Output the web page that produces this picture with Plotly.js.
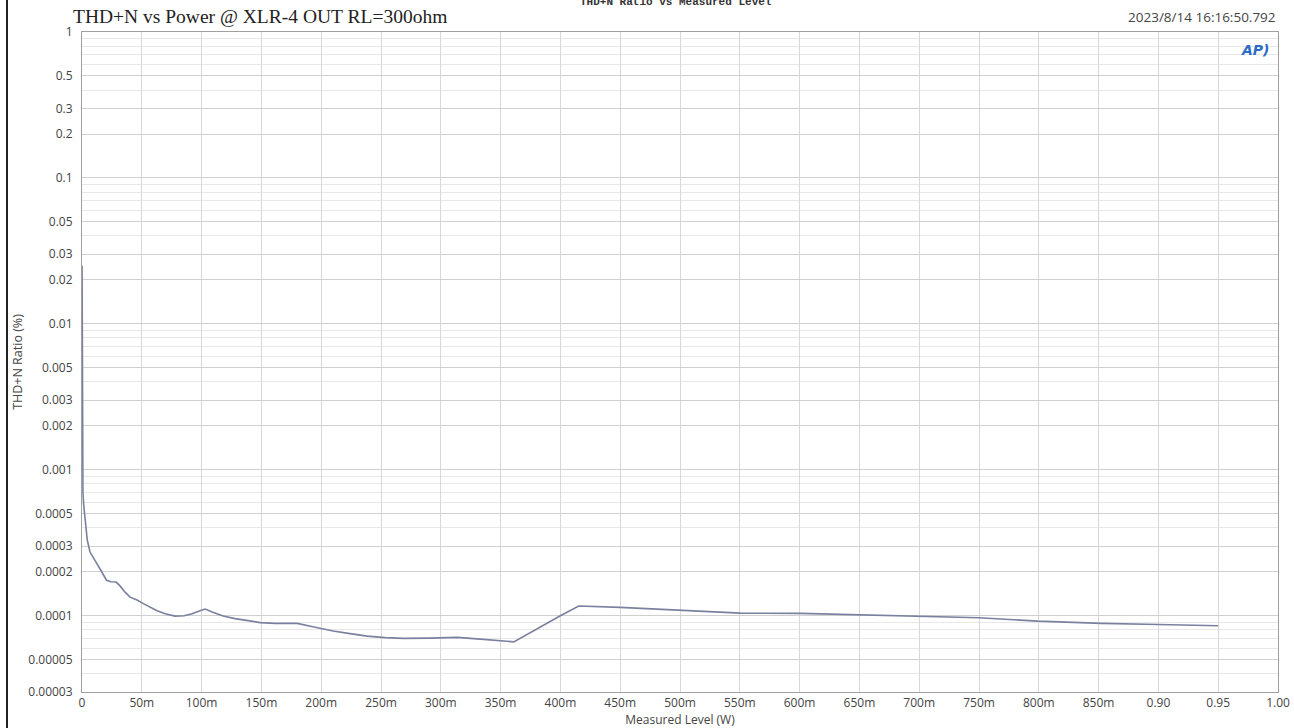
<!DOCTYPE html>
<html>
<head>
<meta charset="utf-8">
<script src="https://cdn.plot.ly/plotly-3.0.1.min.js"></script>
<style>
  html, body { margin: 0; padding: 0; background: #fff; }
  #chart { width: 1294px; height: 728px; position: relative; }
  #edge { position: absolute; left: 6px; top: 0; width: 2px; height: 728px; background: #222; z-index: 10; }
</style>
</head>
<body>
<div id="chart"></div>
<div id="edge"></div>
<script>
// Measured level (W)
const levelW = [0.00005, 0.0004, 0.0006, 0.0008, 0.0015, 0.0025, 0.0044, 0.0067, 0.0095, 0.0121,
  0.0151, 0.0176, 0.0205, 0.0243, 0.0285, 0.0318, 0.036, 0.0402, 0.046, 0.0513,
  0.0569, 0.0628, 0.0695, 0.0778, 0.0854, 0.092, 0.0987, 0.1029, 0.1088, 0.118,
  0.128, 0.138, 0.149, 0.1615, 0.18, 0.193, 0.21, 0.224, 0.2385, 0.2536,
  0.2686, 0.2912, 0.3138, 0.333, 0.35, 0.361, 0.40, 0.4153, 0.45, 0.5004,
  0.5506, 0.6008, 0.651, 0.7013, 0.75, 0.799, 0.824, 0.8527, 0.9, 0.95];
// THD+N ratio (%)
const thdnPct = [0.025, 0.00124, 0.00092, 0.00069, 0.000564, 0.000452, 0.00033, 0.000273, 0.000252, 0.00023,
  0.000209, 0.000193, 0.000175, 0.000171, 0.00017, 0.00016, 0.000145, 0.000134, 0.000128, 0.000121,
  0.000114, 0.000108, 0.000103, 0.0000994, 0.0001, 0.000103, 0.000108, 0.000111, 0.000106, 0.0000994,
  0.0000955, 0.0000923, 0.0000897, 0.0000886, 0.0000886, 0.0000839, 0.0000785, 0.0000754, 0.0000725, 0.0000708,
  0.0000699, 0.0000702, 0.000071, 0.0000691, 0.0000675, 0.0000662, 0.0001, 0.0001164, 0.000114, 0.000109,
  0.0001042, 0.0001037, 0.0001015, 0.0000994, 0.0000968, 0.0000918, 0.00009, 0.0000886, 0.0000871, 0.0000853];

const xTickVals = [0, 0.05, 0.1, 0.15, 0.2, 0.25, 0.3, 0.35, 0.4, 0.45, 0.5, 0.55, 0.6, 0.65, 0.7, 0.75, 0.8, 0.85, 0.9, 0.95, 1.0];
const xTickText = ["0", "50m", "100m", "150m", "200m", "250m", "300m", "350m", "400m", "450m", "500m", "550m", "600m", "650m", "700m", "750m", "800m", "850m", "0.90", "0.95", "1.00"];
const yTickVals = [1, 0.5, 0.3, 0.2, 0.1, 0.05, 0.03, 0.02, 0.01, 0.005, 0.003, 0.002, 0.001, 0.0005, 0.0003, 0.0002, 0.0001, 0.00005, 0.00003];
const yTickText = ["1", "0.5", "0.3", "0.2", "0.1", "0.05", "0.03", "0.02", "0.01", "0.005", "0.003", "0.002", "0.001", "0.0005", "0.0003", "0.0002", "0.0001", "0.00005", "0.00003"];
const yMinorMant = [1, 2, 3, 4, 5, 6, 7, 8, 9];
const yDecades = [-5, -4, -3, -2, -1];

const yMinorVals = [];
yDecades.forEach(d => yMinorMant.forEach(m => {
  const v = m * Math.pow(10, d);
  if (v >= 0.00003 && v <= 1) yMinorVals.push(v);
}));

const sans = "Open Sans, Noto Sans, sans-serif";
const tickFont = { family: sans, size: 12, color: "#444" };

const trace = {
  x: levelW, y: thdnPct, type: "scatter", mode: "lines",
  line: { color: "#7a819e", width: 1.6 },
  hoverinfo: "skip"
};

const layout = {
  width: 1294, height: 728,
  margin: { l: 82, r: 16, t: 32, b: 36 },
  paper_bgcolor: "#fff", plot_bgcolor: "#fff",
  showlegend: false,
  xaxis: {
    range: [0, 1.0], tickmode: "array", tickvals: xTickVals, ticktext: xTickText,
    showgrid: true, gridcolor: "#d8d8d8", gridwidth: 1,
    showline: true, linecolor: "#a0a0a0", linewidth: 1, mirror: true,
    zeroline: false, ticks: "", tickfont: tickFont, ticklabelstandoff: 0,
    title: { text: "Measured Level (W)", font: { family: sans, size: 12, color: "#444" }, standoff: 0 }
  },
  yaxis: {
    type: "log", range: [Math.log10(0.00003), 0],
    tickmode: "array", tickvals: yTickVals, ticktext: yTickText,
    showgrid: true, gridcolor: "#d0d0d0", gridwidth: 1,
    minor: { tickmode: "array", tickvals: yMinorVals, showgrid: true, gridcolor: "#e8e8e8", gridwidth: 1, ticks: "" },
    showline: true, linecolor: "#a0a0a0", linewidth: 1, mirror: true,
    zeroline: false, ticks: "", tickfont: tickFont, ticklabelstandoff: 6,
    title: { text: "THD+N Ratio (%)", font: { family: sans, size: 12.5, color: "#444" }, standoff: 2 }
  },
  annotations: [
    { xref: "paper", yref: "paper", x: -0.009, y: 1.004, xanchor: "left", yanchor: "bottom",
      text: "THD+N vs Power @ XLR-4 OUT RL=300ohm", showarrow: false,
      font: { family: "Liberation Serif, Times New Roman, serif", size: 19.5, color: "#222" } },
    { xref: "paper", yref: "paper", x: 0.497, y: 1.046, xanchor: "center", yanchor: "middle",
      text: "<b>THD+N Ratio vs Measured Level</b>", showarrow: false,
      font: { family: "Liberation Mono, Courier New, monospace", size: 11, color: "#333" } },
    { xref: "paper", yref: "paper", x: 1.0, y: 1.006, xanchor: "right", yanchor: "bottom",
      text: "2023/8/14 16:16:50.792", showarrow: false,
      font: { family: sans, size: 13.5, color: "#444" } },
    { xref: "paper", yref: "paper", x: 0.981, y: 0.973, xanchor: "center", yanchor: "middle",
      text: "<b><i>AP)</i></b>", showarrow: false,
      font: { family: "DejaVu Sans, sans-serif", size: 14, color: "#2b6cc4" } }
  ]
};

Plotly.newPlot("chart", [trace], layout, { displayModeBar: false, staticPlot: true });
</script>
</body>
</html>
